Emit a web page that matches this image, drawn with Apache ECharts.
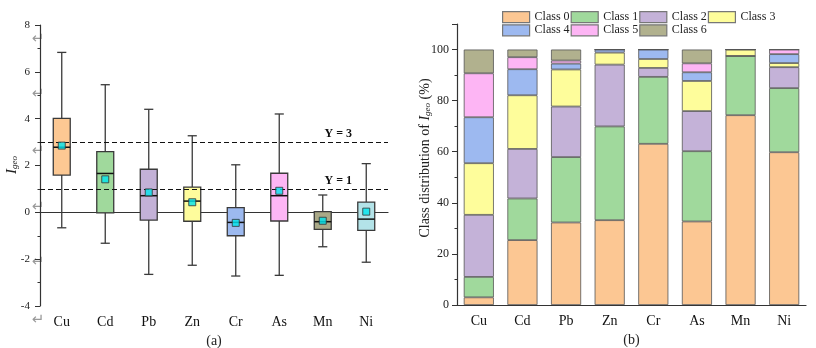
<!DOCTYPE html>
<html><head><meta charset="utf-8">
<script src="https://cdn.jsdelivr.net/npm/echarts@6/dist/echarts.min.js"></script>
<style>html,body{margin:0;padding:0;background:#fff}#c{width:816px;height:348px}</style>
</head><body><div id="c"></div>
<script>
// ---------- data ----------
const categories = ['Cu','Cd','Pb','Zn','Cr','As','Mn','Ni'];
// panel (a): Igeo box plot
const whiskerLow  = [-0.66,-1.32,-2.65,-2.26,-2.72,-2.69,-1.47,-2.13];
const q1          = [ 1.59,-0.02,-0.33,-0.38,-1.00,-0.37,-0.73,-0.77];
const median      = [ 2.78, 1.66, 0.71, 0.48,-0.43, 0.71,-0.40,-0.29];
const q3          = [ 4.01, 2.59, 1.84, 1.08, 0.20, 1.67, 0.03, 0.44];
const whiskerHigh = [ 6.83, 5.45, 4.40, 3.27, 2.03, 4.20, 0.74, 2.08];
const means       = [ 2.85, 1.41, 0.85, 0.43,-0.45, 0.92,-0.36, 0.03];
const thresholds  = [3, 1];
// panel (b): class distribution (%)
const classNames = ['Class 0','Class 1','Class 2','Class 3','Class 4','Class 5','Class 6'];
const class0 = [ 3.0,25.4,32.3,33.2,63.1,32.7,74.3,59.8];
const class1 = [ 8.0,16.3,25.6,36.7,26.2,27.5,23.2,25.1];
const class2 = [24.3,19.4,19.8,24.2, 3.5,15.7, 0.0, 8.2];
const class3 = [20.2,21.0,14.5, 4.7, 3.5,11.8, 2.5, 1.6];
const class4 = [18.0,10.2, 2.3, 1.2, 3.7, 3.4, 0.0, 3.5];
const class5 = [17.2, 4.7, 1.2, 0.0, 0.0, 3.5, 0.0, 1.8];
const class6 = [ 9.3, 3.0, 4.3, 0.0, 0.0, 5.4, 0.0, 0.0];
const classValues = [class0,class1,class2,class3,class4,class5,class6];

// ---------- styles ----------
const SERIF = '"Liberation Serif","Times New Roman",serif';
const boxColors = ['#FCC893','#A0D99C','#C3B1D7','#FEFC9C','#9CB9EF','#FDB6F5','#AAA987','#B3E3E8'];
const classColors = ['#FCC793','#A0D99C','#C4B2D8','#FEFD9B','#9DB9F0','#FDB5F4','#B1B18E'];
const EDGE = '#3a3a3a';

const chart = echarts.init(document.getElementById('c'), null, {renderer:'canvas'});

const boxData = categories.map((c,i)=>[i, whiskerLow[i], q1[i], median[i], q3[i], whiskerHigh[i]]);

function renderBox(params, api){
  const x = api.value(0);
  const pLo = api.coord([x, api.value(1)]);
  const pQ1 = api.coord([x, api.value(2)]);
  const pMd = api.coord([x, api.value(3)]);
  const pQ3 = api.coord([x, api.value(4)]);
  const pHi = api.coord([x, api.value(5)]);
  const band = api.size([1,0])[0];
  const bw = band*0.39, cw = band*0.21;
  const cx = pLo[0];
  const ls = {stroke: EDGE, lineWidth: 1.3};
  return {type:'group', children:[
    {type:'line', shape:{x1:cx,y1:pHi[1],x2:cx,y2:pQ3[1]}, style:ls},
    {type:'line', shape:{x1:cx,y1:pQ1[1],x2:cx,y2:pLo[1]}, style:ls},
    {type:'line', shape:{x1:cx-cw/2,y1:pHi[1],x2:cx+cw/2,y2:pHi[1]}, style:ls},
    {type:'line', shape:{x1:cx-cw/2,y1:pLo[1],x2:cx+cw/2,y2:pLo[1]}, style:ls},
    {type:'rect', shape:{x:cx-bw/2,y:pQ3[1],width:bw,height:pQ1[1]-pQ3[1]},
      style:{fill: boxColors[params.dataIndex], stroke: EDGE, lineWidth:1.3}},
    {type:'line', shape:{x1:cx-bw/2,y1:pMd[1],x2:cx+bw/2,y2:pMd[1]}, style:{stroke:'#111',lineWidth:1.5}}
  ]};
}

const barSeries = classNames.map((n,k)=>({
  name:n, type:'bar', stack:'total', xAxisIndex:1, yAxisIndex:1,
  barWidth:'69%', data: classValues[k],
  itemStyle:{color:classColors[k], borderColor:'#555', borderWidth:0.8},
  emphasis:{disabled:true}
}));

const artifactYs = [39, 94, 150.7, 206.7, 261.7, 320];

const option = {
  animation:false,
  textStyle:{fontFamily:SERIF},
  grid:[
    {left:40, top:25, width:348, height:281, outerBoundsMode:'none', containLabel:false},
    {left:457, top:24, width:349, height:281, outerBoundsMode:'none', containLabel:false}
  ],
  legend:{
    data:classNames, left:497, top:6, width:290, itemWidth:27, itemHeight:11, itemGap:1,
    icon:'rect',
    itemStyle:{borderColor:'#777', borderWidth:1.2},
    textStyle:{fontFamily:SERIF, fontSize:12, color:'#222'}
  },
  xAxis:[
    {type:'category', gridIndex:0, data:categories,
      axisLine:{lineStyle:{color:'#333', width:1.2}},
      axisTick:{alignWithLabel:true, length:4, lineStyle:{color:'#333'}},
      axisLabel:{fontFamily:SERIF, fontSize:14, color:'#111', margin:9},
      name:'(a)', nameLocation:'middle', nameGap:24, nameTextStyle:{fontFamily:SERIF, fontSize:14, color:'#222'}},
    {type:'category', gridIndex:1, data:categories,
      axisLine:{lineStyle:{color:'#333', width:1.2}},
      axisTick:{alignWithLabel:true, length:4, lineStyle:{color:'#333'}},
      axisLabel:{fontFamily:SERIF, fontSize:14, color:'#111', margin:9},
      name:'(b)', nameLocation:'middle', nameGap:23, nameTextStyle:{fontFamily:SERIF, fontSize:14, color:'#222'}}
  ],
  yAxis:[
    {type:'value', gridIndex:0, min:-4, max:8, interval:2,
      axisLine:{show:true, lineStyle:{color:'#333', width:1.2}},
      axisTick:{show:true, length:5, lineStyle:{color:'#333'}},
      minorTick:{show:true, splitNumber:2, length:2.5, lineStyle:{color:'#333'}},
      splitLine:{show:false},
      axisLabel:{fontFamily:SERIF, fontSize:11, color:'#222', margin:10}},
    {type:'value', gridIndex:1, min:0, max:110, interval:20,
      axisLine:{show:true, lineStyle:{color:'#333', width:1.2}},
      axisTick:{show:true, length:5, lineStyle:{color:'#333'}},
      minorTick:{show:true, splitNumber:2, length:2.5, lineStyle:{color:'#333'}},
      splitLine:{show:false},
      axisLabel:{fontFamily:SERIF, fontSize:12, color:'#222', margin:8,
        formatter:v=> v>100 ? '' : String(v)}}
  ],
  graphic:[
    {type:'text', x:12, y:165, rotation:Math.PI/2, style:{
      text:'{i|I}{s|geo}', align:'center', verticalAlign:'middle',
      rich:{i:{fontFamily:SERIF, fontStyle:'italic', fontSize:15, lineHeight:15, fill:'#222', verticalAlign:'bottom'},
            s:{fontFamily:SERIF, fontStyle:'italic', fontSize:9, lineHeight:4, fill:'#222', verticalAlign:'bottom'}}}},
    {type:'text', x:425, y:158, rotation:Math.PI/2, style:{
      text:'{n|Class distribution of }{i|I}{s|geo}{n| (%)}', align:'center', verticalAlign:'middle',
      rich:{n:{fontFamily:SERIF, fontSize:14, lineHeight:14, fill:'#222', verticalAlign:'bottom'},
            i:{fontFamily:SERIF, fontStyle:'italic', fontSize:14, lineHeight:14, fill:'#222', verticalAlign:'bottom'},
            s:{fontFamily:SERIF, fontStyle:'italic', fontSize:9, lineHeight:4, fill:'#222', verticalAlign:'bottom'}}}}
  ].concat(artifactYs.map(y=>({type:'text', x:38, y:y, style:{text:'\u21B5', align:'center', verticalAlign:'middle',
      fontFamily:'DejaVu Sans', fontSize:15, fill:'#9a9a9a'}}))),
  series:[
    {type:'line', xAxisIndex:0, yAxisIndex:0, data:[], z:1,
      markLine:{silent:true, symbol:'none',
        lineStyle:{type:[5,3], color:'#111', width:1.2},
        label:{position:'insideEndTop', distance:2, fontFamily:SERIF, fontWeight:'bold', fontSize:12, color:'#111',
          padding:[0,34,0,0], formatter:p=>'Y = '+p.value},
        data: thresholds.map(t=>({yAxis:t}))}},
    {type:'custom', xAxisIndex:0, yAxisIndex:0, renderItem:renderBox, data:boxData, z:2,
      encode:{x:0, y:[1,2,3,4,5]}},
    {type:'scatter', xAxisIndex:0, yAxisIndex:0, data:means, symbol:'rect', symbolSize:7, z:5,
      itemStyle:{color:'#00E5EE', borderColor:'#333', borderWidth:1}}
  ].concat(barSeries)
};
chart.setOption(option);
</script></body></html>
